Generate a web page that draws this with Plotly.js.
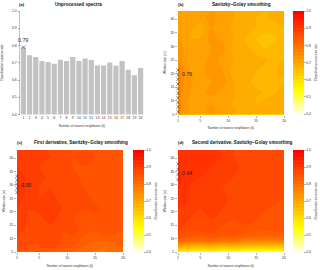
<!DOCTYPE html>
<html>
<head>
<meta charset="utf-8">
<script src="https://cdn.plot.ly/plotly-3.0.1.min.js"></script>
<style>html,body{margin:0;padding:0;background:#fff}#chart{width:320px;height:270px}</style>
</head>
<body>
<div id="chart"></div>
<script>
// ---- data ----
const kValues = [1,2,3,4,5,6,7,8,9,10,11,12,13,14,15,16,17,18,19,20];
const rateUnprocessed = [0.79,0.743,0.733,0.71,0.704,0.694,0.718,0.71,0.733,0.71,0.725,0.716,0.684,0.684,0.702,0.684,0.71,0.66,0.627,0.669];
const bestA = {k: 1, rate: 0.79, label: "0.79"};

const gridK = [1,3,5,7,9,11,13,15,17,20];
const gridW = [5,7,9,11,13,17,21,25,29,33,37,41,43];

const rateSG = [
  [0.74,0.71,0.70,0.72,0.71,0.70,0.69,0.70,0.69,0.70],
  [0.75,0.72,0.71,0.73,0.70,0.71,0.68,0.69,0.68,0.69],
  [0.75,0.71,0.70,0.72,0.72,0.69,0.70,0.68,0.69,0.68],
  [0.74,0.72,0.71,0.71,0.71,0.70,0.69,0.68,0.68,0.69],
  [0.75,0.72,0.71,0.73,0.71,0.70,0.68,0.69,0.67,0.69],
  [0.75,0.73,0.70,0.72,0.73,0.70,0.69,0.67,0.68,0.68],
  [0.76,0.72,0.71,0.74,0.72,0.69,0.70,0.68,0.67,0.69],
  [0.74,0.71,0.70,0.73,0.71,0.70,0.68,0.69,0.68,0.68],
  [0.73,0.71,0.71,0.72,0.73,0.69,0.69,0.67,0.66,0.68],
  [0.72,0.70,0.70,0.73,0.71,0.70,0.68,0.66,0.65,0.67],
  [0.72,0.71,0.69,0.72,0.72,0.69,0.70,0.68,0.67,0.68],
  [0.71,0.70,0.71,0.73,0.71,0.70,0.69,0.68,0.68,0.69],
  [0.71,0.71,0.70,0.72,0.72,0.70,0.69,0.69,0.68,0.69]
];
const rateD1 = [
  [0.85,0.83,0.84,0.83,0.83,0.82,0.81,0.80,0.80,0.81],
  [0.87,0.86,0.86,0.87,0.85,0.84,0.82,0.81,0.80,0.82],
  [0.88,0.87,0.86,0.88,0.86,0.85,0.83,0.82,0.82,0.83],
  [0.88,0.86,0.87,0.87,0.86,0.86,0.84,0.83,0.84,0.84],
  [0.89,0.87,0.88,0.87,0.86,0.87,0.85,0.84,0.85,0.84],
  [0.89,0.88,0.87,0.89,0.87,0.86,0.86,0.85,0.84,0.85],
  [0.90,0.88,0.89,0.90,0.88,0.87,0.86,0.87,0.85,0.85],
  [0.91,0.89,0.88,0.89,0.87,0.86,0.87,0.85,0.86,0.85],
  [0.93,0.89,0.88,0.88,0.87,0.88,0.86,0.86,0.85,0.86],
  [0.92,0.89,0.89,0.87,0.86,0.87,0.85,0.86,0.86,0.85],
  [0.90,0.90,0.88,0.88,0.87,0.86,0.86,0.85,0.85,0.86],
  [0.89,0.89,0.90,0.88,0.88,0.86,0.87,0.86,0.85,0.85],
  [0.88,0.88,0.89,0.87,0.87,0.86,0.86,0.85,0.86,0.85]
];
const rateD2 = [
  [0.57,0.56,0.55,0.56,0.54,0.55,0.53,0.53,0.52,0.54],
  [0.70,0.68,0.67,0.68,0.66,0.67,0.65,0.64,0.64,0.65],
  [0.81,0.80,0.79,0.80,0.78,0.79,0.77,0.77,0.76,0.77],
  [0.86,0.85,0.84,0.85,0.84,0.84,0.83,0.82,0.82,0.83],
  [0.88,0.86,0.86,0.87,0.85,0.86,0.85,0.84,0.84,0.85],
  [0.89,0.88,0.87,0.88,0.87,0.86,0.87,0.86,0.85,0.86],
  [0.90,0.89,0.88,0.89,0.88,0.87,0.86,0.87,0.86,0.86],
  [0.91,0.90,0.89,0.88,0.89,0.87,0.88,0.86,0.87,0.86],
  [0.92,0.90,0.90,0.89,0.88,0.88,0.87,0.87,0.86,0.87],
  [0.93,0.91,0.90,0.90,0.89,0.88,0.88,0.87,0.87,0.86],
  [0.92,0.91,0.91,0.90,0.89,0.89,0.87,0.88,0.86,0.87],
  [0.91,0.91,0.92,0.91,0.90,0.88,0.88,0.87,0.87,0.87],
  [0.90,0.91,0.91,0.92,0.89,0.88,0.88,0.87,0.87,0.87]
];

const bestWB = [6,7.7,9.4,11.1,12.8,14.5,16.2,17.9,19.6,21.3];
const bestWC = [27.2,28.7,30.2,31.7,33.2];
const bestWD = [32,33.9,35.8,37.8];
const bestLabels = {b:{k:1,w:20,text:"0.76"}, c:{k:1,w:30,text:"0.95"}, d:{k:1,w:34.5,text:"0.94"}};

const panelTitles = ["Unprocessed spectra","Savitzky–Golay smoothing","First derivative, Savitzky–Golay smoothing","Second derivative, Savitzky–Golay smoothing"];
const panelLetters = ["(a)","(b)","(c)","(d)"];
const xTitle = "Number of nearest neighbours (k)";
const yTitleA = "Classification success rate";
const yTitleW = "Window size (w)";
const cbTitle = "Classification success rate";

// ---- styling ----
const FONT = "Liberation Sans, Arial, sans-serif";
const TXT = "#333";
const MARK = "#444";
const W = 320, H = 270;
const px = v => v / W;
const py = v => 1 - v / H;

const heat = [[0,'#ffffee'],[0.21,'#ffff14'],[0.235,'#ffff00'],[1,'#ff0000']];

function contourTrace(z, xa, ya, cbx, cby, cblen) {
  return {
    type: 'contour', x: gridK, y: gridW, z: z, xaxis: xa, yaxis: ya,
    zmin: 0.4, zmax: 1.0, colorscale: heat, autocontour: false,
    contours: {start: 0.4, end: 1.0, size: 0.02, coloring: 'fill', showlines: false},
    line: {width: 0, smoothing: 0.6},
    hoverinfo: 'skip',
    colorbar: {
      x: cbx, xanchor: 'left', xref: 'paper', y: cby, yanchor: 'middle', yref: 'paper',
      len: cblen, lenmode: 'fraction', thickness: 10.5, thicknessmode: 'pixels',
      xpad: 0, ypad: 0, outlinewidth: 0,
      tickvals: [0.4,0.5,0.6,0.7,0.8,0.9,1.0], tickformat: '.1f',
      ticks: 'outside', ticklen: 2, tickwidth: 0.5, tickcolor: '#666',
      tickfont: {family: FONT, size: 3.5, color: TXT},
      title: {text: cbTitle, side: 'right', font: {family: FONT, size: 3.2, color: TXT}}
    }
  };
}

function markerTrace(ws, xa, ya) {
  return {
    type: 'scatter', mode: 'markers', x: ws.map(() => 1), y: ws, xaxis: xa, yaxis: ya,
    cliponaxis: false, hoverinfo: 'skip', showlegend: false,
    marker: {symbol: 'x-thin-open', size: 3.5, color: MARK, line: {width: 0.6, color: MARK}}
  };
}

const traces = [
  {type: 'bar', x: kValues, y: rateUnprocessed, xaxis: 'x', yaxis: 'y',
   marker: {color: '#c2c2c2', line: {width: 0}}, hoverinfo: 'skip', showlegend: false},
  {type: 'scatter', mode: 'markers', x: [bestA.k], y: [bestA.rate], xaxis: 'x', yaxis: 'y', cliponaxis: false,
   marker: {symbol: 'x-thin-open', size: 3.5, color: MARK, line: {width: 0.6, color: MARK}}, hoverinfo: 'skip', showlegend: false},
  contourTrace(rateSG, 'x2', 'y2', px(292.7), py(62.5), 103/H),
  markerTrace(bestWB, 'x2', 'y2'),
  contourTrace(rateD1, 'x3', 'y3', px(132.7), py(201), 102/H),
  markerTrace(bestWC, 'x3', 'y3'),
  contourTrace(rateD2, 'x4', 'y4', px(292.7), py(201), 102/H),
  markerTrace(bestWD, 'x4', 'y4')
];

const tickFont = {family: FONT, size: 3.5, color: TXT};
const axTitleFont = {family: FONT, size: 3.1, color: TXT};

function kAxis(domain, anchor) {
  return {domain: domain, anchor: anchor, range: [1, 20], tickvals: [1,5,10,15,20],
    ticks: 'outside', ticklen: 2, tickwidth: 0.5, tickcolor: '#666', showgrid: false, zeroline: false,
    showline: false, tickfont: tickFont,
    title: {text: xTitle, font: axTitleFont, standoff: 5}};
}
function wAxis(domain, anchor) {
  return {domain: domain, anchor: anchor, range: [5, 43], tickvals: [5,10,15,20,25,30,35,40],
    ticks: 'outside', ticklen: 2, tickwidth: 0.5, tickcolor: '#666', showgrid: false, zeroline: false,
    showline: false, tickfont: tickFont,
    title: {text: yTitleW, font: axTitleFont, standoff: 4}};
}

const topY = [py(114.5), py(11)];
const botY = [py(252), py(150)];
const leftXA = [px(20), px(144)];
const rightX = [px(178), px(284)];
const leftXC = [px(17), px(123)];

const titleAnn = (text, x, y) => ({text: '<b>' + text + '</b>', x: x, y: y, xref: 'paper', yref: 'paper',
  xanchor: 'center', yanchor: 'middle', showarrow: false, font: {family: FONT, size: 4.6, color: '#111'}});
const letterAnn = (text, x, y) => ({text: '<b>' + text + '</b>', x: x, y: y, xref: 'paper', yref: 'paper',
  xanchor: 'left', yanchor: 'middle', showarrow: false, font: {family: FONT, size: 4.3, color: '#111'}});
const valAnn = (text, x, y, xr, yr) => ({text: text, x: x, y: y, xref: xr, yref: yr,
  xanchor: 'left', yanchor: 'middle', xshift: 2, showarrow: false, font: {family: FONT, size: 5.3, color: '#222'}});

const layout = {
  width: W, height: H, margin: {l: 0, r: 0, t: 0, b: 0},
  paper_bgcolor: '#fff', plot_bgcolor: '#fff', showlegend: false, bargap: 0.16,
  font: {family: FONT, color: TXT},
  xaxis: {domain: leftXA, anchor: 'y', range: [0.45, 20.55], tickvals: kValues, ticks: '', showgrid: false,
    zeroline: false, showline: false, tickfont: tickFont,
    title: {text: xTitle, font: axTitleFont, standoff: 5}},
  yaxis: {domain: topY, anchor: 'x', range: [0.4, 1.0], tickvals: [0.4,0.5,0.6,0.7,0.8,0.9,1.0], tickformat: '.1f',
    ticks: 'outside', ticklen: 2, tickwidth: 0.5, tickcolor: '#666', showline: true, linewidth: 0.5, linecolor: '#888',
    showgrid: false, zeroline: false, tickfont: tickFont,
    title: {text: yTitleA, font: axTitleFont, standoff: 8}},
  xaxis2: kAxis(rightX, 'y2'),
  yaxis2: wAxis(topY, 'x2'),
  xaxis3: kAxis(leftXC, 'y3'),
  yaxis3: wAxis(botY, 'x3'),
  xaxis4: kAxis(rightX, 'y4'),
  yaxis4: wAxis(botY, 'x4'),
  annotations: [
    titleAnn(panelTitles[0], px(78), py(5)),
    titleAnn(panelTitles[1], px(241), py(5)),
    titleAnn(panelTitles[2], px(81), py(142)),
    titleAnn(panelTitles[3], px(242), py(142)),
    letterAnn(panelLetters[0], px(17), py(5)),
    letterAnn(panelLetters[1], px(176), py(5)),
    letterAnn(panelLetters[2], px(15), py(142)),
    letterAnn(panelLetters[3], px(176), py(142)),
    {text: bestA.label, x: bestA.k, y: bestA.rate, xref: 'x', yref: 'y', xanchor: 'center', yanchor: 'bottom',
     yshift: 2.5, showarrow: false, font: {family: FONT, size: 5.3, color: '#222'}},
    valAnn(bestLabels.b.text, bestLabels.b.k, bestLabels.b.w, 'x2', 'y2'),
    valAnn(bestLabels.c.text, bestLabels.c.k, bestLabels.c.w, 'x3', 'y3'),
    valAnn(bestLabels.d.text, bestLabels.d.k, bestLabels.d.w, 'x4', 'y4')
  ]
};

Plotly.newPlot('chart', traces, layout, {staticPlot: true, displayModeBar: false});
</script>
</body>
</html>
